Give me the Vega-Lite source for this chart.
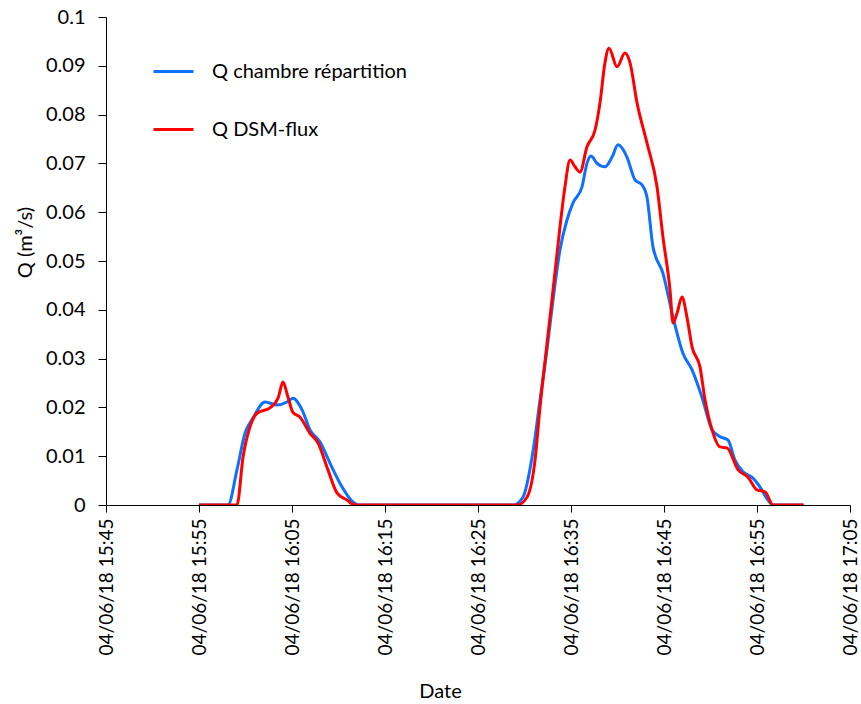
{
  "$schema": "https://vega.github.io/schema/vega-lite/v6.json",
  "autosize": {"type": "none"},
  "width": 744,
  "height": 488,
  "padding": {"left": 106, "top": 17, "right": 11, "bottom": 199},
  "background": "white",
  "config": {
    "view": {"stroke": null},
    "font": "Lato",
    "axis": {"labelFont": "Lato", "titleFont": "Lato", "labelColor": "#000", "titleColor": "#000", "domainColor": "#000", "tickColor": "#000", "grid": false, "labelFontSize": 18, "titleFontSize": 20, "titleFontWeight": "normal", "labelFontWeight": "normal", "tickSize": 7}
  },
  "data": {"values": [
    {"time": "2018-06-04T15:55:00", "series": "Q chambre répartition", "Q": 0},
    {"time": "2018-06-04T15:58:07", "series": "Q chambre répartition", "Q": 0},
    {"time": "2018-06-04T15:59:05", "series": "Q chambre répartition", "Q": 0.0072},
    {"time": "2018-06-04T15:59:57", "series": "Q chambre répartition", "Q": 0.0147},
    {"time": "2018-06-04T16:00:48", "series": "Q chambre répartition", "Q": 0.0178},
    {"time": "2018-06-04T16:02:06", "series": "Q chambre répartition", "Q": 0.0211},
    {"time": "2018-06-04T16:03:23", "series": "Q chambre répartition", "Q": 0.0205},
    {"time": "2018-06-04T16:04:28", "series": "Q chambre répartition", "Q": 0.0211},
    {"time": "2018-06-04T16:05:06", "series": "Q chambre répartition", "Q": 0.0219},
    {"time": "2018-06-04T16:06:05", "series": "Q chambre répartition", "Q": 0.0195},
    {"time": "2018-06-04T16:06:56", "series": "Q chambre répartition", "Q": 0.0154},
    {"time": "2018-06-04T16:08:01", "series": "Q chambre répartition", "Q": 0.0129},
    {"time": "2018-06-04T16:09:05", "series": "Q chambre répartition", "Q": 0.0086},
    {"time": "2018-06-04T16:10:23", "series": "Q chambre répartition", "Q": 0.0037},
    {"time": "2018-06-04T16:11:34", "series": "Q chambre répartition", "Q": 0.0006},
    {"time": "2018-06-04T16:12:06", "series": "Q chambre répartition", "Q": 0},
    {"time": "2018-06-04T16:28:46", "series": "Q chambre répartition", "Q": 0},
    {"time": "2018-06-04T16:29:50", "series": "Q chambre répartition", "Q": 0.0016},
    {"time": "2018-06-04T16:30:55", "series": "Q chambre répartition", "Q": 0.011},
    {"time": "2018-06-04T16:31:40", "series": "Q chambre répartition", "Q": 0.0215},
    {"time": "2018-06-04T16:32:25", "series": "Q chambre répartition", "Q": 0.0318},
    {"time": "2018-06-04T16:33:04", "series": "Q chambre répartition", "Q": 0.042},
    {"time": "2018-06-04T16:33:49", "series": "Q chambre répartition", "Q": 0.0523},
    {"time": "2018-06-04T16:34:34", "series": "Q chambre répartition", "Q": 0.0584},
    {"time": "2018-06-04T16:35:13", "series": "Q chambre répartition", "Q": 0.0619},
    {"time": "2018-06-04T16:36:11", "series": "Q chambre répartition", "Q": 0.0652},
    {"time": "2018-06-04T16:36:43", "series": "Q chambre répartition", "Q": 0.07},
    {"time": "2018-06-04T16:37:09", "series": "Q chambre répartition", "Q": 0.0715},
    {"time": "2018-06-04T16:37:48", "series": "Q chambre répartition", "Q": 0.07},
    {"time": "2018-06-04T16:38:39", "series": "Q chambre répartition", "Q": 0.0693},
    {"time": "2018-06-04T16:39:25", "series": "Q chambre répartition", "Q": 0.0713},
    {"time": "2018-06-04T16:40:03", "series": "Q chambre répartition", "Q": 0.0738},
    {"time": "2018-06-04T16:41:01", "series": "Q chambre répartition", "Q": 0.0713},
    {"time": "2018-06-04T16:41:53", "series": "Q chambre répartition", "Q": 0.0666},
    {"time": "2018-06-04T16:42:38", "series": "Q chambre répartition", "Q": 0.0656},
    {"time": "2018-06-04T16:43:10", "series": "Q chambre répartition", "Q": 0.0631},
    {"time": "2018-06-04T16:43:49", "series": "Q chambre répartition", "Q": 0.0529},
    {"time": "2018-06-04T16:44:53", "series": "Q chambre répartition", "Q": 0.0475},
    {"time": "2018-06-04T16:45:58", "series": "Q chambre répartition", "Q": 0.0385},
    {"time": "2018-06-04T16:47:02", "series": "Q chambre répartition", "Q": 0.0311},
    {"time": "2018-06-04T16:48:01", "series": "Q chambre répartition", "Q": 0.0277},
    {"time": "2018-06-04T16:49:05", "series": "Q chambre répartition", "Q": 0.0221},
    {"time": "2018-06-04T16:50:10", "series": "Q chambre répartition", "Q": 0.0154},
    {"time": "2018-06-04T16:51:01", "series": "Q chambre répartition", "Q": 0.014},
    {"time": "2018-06-04T16:51:53", "series": "Q chambre répartition", "Q": 0.0133},
    {"time": "2018-06-04T16:52:38", "series": "Q chambre répartition", "Q": 0.0092},
    {"time": "2018-06-04T16:53:30", "series": "Q chambre répartition", "Q": 0.0068},
    {"time": "2018-06-04T16:54:34", "series": "Q chambre répartition", "Q": 0.0055},
    {"time": "2018-06-04T16:55:19", "series": "Q chambre répartition", "Q": 0.0037},
    {"time": "2018-06-04T16:56:11", "series": "Q chambre répartition", "Q": 0.001},
    {"time": "2018-06-04T16:56:43", "series": "Q chambre répartition", "Q": 0},
    {"time": "2018-06-04T17:00:00", "series": "Q chambre répartition", "Q": 0},
    {"time": "2018-06-04T15:55:00", "series": "Q DSM-flux", "Q": 0},
    {"time": "2018-06-04T15:59:05", "series": "Q DSM-flux", "Q": 0},
    {"time": "2018-06-04T15:59:44", "series": "Q DSM-flux", "Q": 0.0098},
    {"time": "2018-06-04T16:00:29", "series": "Q DSM-flux", "Q": 0.016},
    {"time": "2018-06-04T16:01:14", "series": "Q DSM-flux", "Q": 0.0188},
    {"time": "2018-06-04T16:02:38", "series": "Q DSM-flux", "Q": 0.0199},
    {"time": "2018-06-04T16:03:30", "series": "Q DSM-flux", "Q": 0.0219},
    {"time": "2018-06-04T16:04:02", "series": "Q DSM-flux", "Q": 0.0252},
    {"time": "2018-06-04T16:04:34", "series": "Q DSM-flux", "Q": 0.0221},
    {"time": "2018-06-04T16:05:06", "series": "Q DSM-flux", "Q": 0.019},
    {"time": "2018-06-04T16:05:52", "series": "Q DSM-flux", "Q": 0.018},
    {"time": "2018-06-04T16:06:56", "series": "Q DSM-flux", "Q": 0.0147},
    {"time": "2018-06-04T16:07:48", "series": "Q DSM-flux", "Q": 0.0127},
    {"time": "2018-06-04T16:08:52", "series": "Q DSM-flux", "Q": 0.0072},
    {"time": "2018-06-04T16:09:50", "series": "Q DSM-flux", "Q": 0.0025},
    {"time": "2018-06-04T16:10:55", "series": "Q DSM-flux", "Q": 0.001},
    {"time": "2018-06-04T16:11:46", "series": "Q DSM-flux", "Q": 0},
    {"time": "2018-06-04T16:29:12", "series": "Q DSM-flux", "Q": 0},
    {"time": "2018-06-04T16:30:16", "series": "Q DSM-flux", "Q": 0.0016},
    {"time": "2018-06-04T16:31:08", "series": "Q DSM-flux", "Q": 0.0092},
    {"time": "2018-06-04T16:31:40", "series": "Q DSM-flux", "Q": 0.02},
    {"time": "2018-06-04T16:32:25", "series": "Q DSM-flux", "Q": 0.033},
    {"time": "2018-06-04T16:33:04", "series": "Q DSM-flux", "Q": 0.044},
    {"time": "2018-06-04T16:33:49", "series": "Q DSM-flux", "Q": 0.057},
    {"time": "2018-06-04T16:34:21", "series": "Q DSM-flux", "Q": 0.0652},
    {"time": "2018-06-04T16:34:54", "series": "Q DSM-flux", "Q": 0.0707},
    {"time": "2018-06-04T16:35:26", "series": "Q DSM-flux", "Q": 0.0693},
    {"time": "2018-06-04T16:35:58", "series": "Q DSM-flux", "Q": 0.0682},
    {"time": "2018-06-04T16:36:43", "series": "Q DSM-flux", "Q": 0.0734},
    {"time": "2018-06-04T16:37:35", "series": "Q DSM-flux", "Q": 0.0768},
    {"time": "2018-06-04T16:38:07", "series": "Q DSM-flux", "Q": 0.0824},
    {"time": "2018-06-04T16:38:39", "series": "Q DSM-flux", "Q": 0.0906},
    {"time": "2018-06-04T16:39:05", "series": "Q DSM-flux", "Q": 0.0936},
    {"time": "2018-06-04T16:39:57", "series": "Q DSM-flux", "Q": 0.0898},
    {"time": "2018-06-04T16:40:48", "series": "Q DSM-flux", "Q": 0.0926},
    {"time": "2018-06-04T16:41:21", "series": "Q DSM-flux", "Q": 0.0906},
    {"time": "2018-06-04T16:42:06", "series": "Q DSM-flux", "Q": 0.0824},
    {"time": "2018-06-04T16:43:10", "series": "Q DSM-flux", "Q": 0.0742},
    {"time": "2018-06-04T16:44:15", "series": "Q DSM-flux", "Q": 0.0652},
    {"time": "2018-06-04T16:44:53", "series": "Q DSM-flux", "Q": 0.055},
    {"time": "2018-06-04T16:45:39", "series": "Q DSM-flux", "Q": 0.044},
    {"time": "2018-06-04T16:45:58", "series": "Q DSM-flux", "Q": 0.0373},
    {"time": "2018-06-04T16:46:24", "series": "Q DSM-flux", "Q": 0.0393},
    {"time": "2018-06-04T16:46:56", "series": "Q DSM-flux", "Q": 0.0426},
    {"time": "2018-06-04T16:47:28", "series": "Q DSM-flux", "Q": 0.0385},
    {"time": "2018-06-04T16:48:01", "series": "Q DSM-flux", "Q": 0.0324},
    {"time": "2018-06-04T16:48:52", "series": "Q DSM-flux", "Q": 0.0283},
    {"time": "2018-06-04T16:49:25", "series": "Q DSM-flux", "Q": 0.0215},
    {"time": "2018-06-04T16:50:10", "series": "Q DSM-flux", "Q": 0.0154},
    {"time": "2018-06-04T16:51:01", "series": "Q DSM-flux", "Q": 0.0119},
    {"time": "2018-06-04T16:51:46", "series": "Q DSM-flux", "Q": 0.0117},
    {"time": "2018-06-04T16:52:58", "series": "Q DSM-flux", "Q": 0.0072},
    {"time": "2018-06-04T16:54:02", "series": "Q DSM-flux", "Q": 0.0057},
    {"time": "2018-06-04T16:55:00", "series": "Q DSM-flux", "Q": 0.0031},
    {"time": "2018-06-04T16:55:52", "series": "Q DSM-flux", "Q": 0.0027},
    {"time": "2018-06-04T16:56:43", "series": "Q DSM-flux", "Q": 0},
    {"time": "2018-06-04T17:00:00", "series": "Q DSM-flux", "Q": 0}
  ]},
  "mark": {"type": "line", "interpolate": "monotone", "strokeWidth": 3, "clip": true},
  "encoding": {
    "x": {
      "field": "time", "type": "temporal",
      "scale": {"domain": [{"year": 2018, "month": 6, "date": 4, "hours": 15, "minutes": 45}, {"year": 2018, "month": 6, "date": 4, "hours": 17, "minutes": 5}]},
      "axis": {
        "title": "Date",
        "titleFontSize": 20,
        "format": "%d/%m/%y %H:%M",
        "labelAngle": 270,
        "labelPadding": 6,
        "labelFontSize": 19,
        "titleX": 334,
        "titleY": 192,
        "titleBaseline": "alphabetic",
        "values": [
          {"year": 2018, "month": 6, "date": 4, "hours": 15, "minutes": 45},
          {"year": 2018, "month": 6, "date": 4, "hours": 15, "minutes": 55},
          {"year": 2018, "month": 6, "date": 4, "hours": 16, "minutes": 5},
          {"year": 2018, "month": 6, "date": 4, "hours": 16, "minutes": 15},
          {"year": 2018, "month": 6, "date": 4, "hours": 16, "minutes": 25},
          {"year": 2018, "month": 6, "date": 4, "hours": 16, "minutes": 35},
          {"year": 2018, "month": 6, "date": 4, "hours": 16, "minutes": 45},
          {"year": 2018, "month": 6, "date": 4, "hours": 16, "minutes": 55},
          {"year": 2018, "month": 6, "date": 4, "hours": 17, "minutes": 5}
        ]
      }
    },
    "y": {
      "field": "Q", "type": "quantitative",
      "scale": {"domain": [0, 0.1], "nice": false},
      "axis": {"title": "Q (m³/s)", "titleFontSize": 20, "values": [0, 0.01, 0.02, 0.03, 0.04, 0.05, 0.06, 0.07, 0.08, 0.09, 0.1], "labelExpr": "datum.value == 0 ? '0' : format(datum.value, '.2~f')", "labelFontSize": 20, "tickSize": 8, "labelPadding": 13, "titleX": -81, "titleY": 225, "titleAlign": "center", "titleBaseline": "middle", "titleAngle": 270, "labelFlush": false}
    },
    "color": {
      "field": "series", "type": "nominal",
      "scale": {"domain": ["Q chambre répartition", "Q DSM-flux"], "range": ["#0F6FFF", "#FF0000"]},
      "legend": {
        "title": null, "orient": "none", "legendX": 46, "legendY": 33,
        "symbolType": "stroke", "symbolSize": 1600, "symbolStrokeWidth": 3,
        "labelFont": "Lato", "labelFontSize": 20, "labelColor": "#000", "labelLimit": 500,
        "labelOffset": 17, "rowPadding": 26, "padding": 0
      }
    }
  }
}
